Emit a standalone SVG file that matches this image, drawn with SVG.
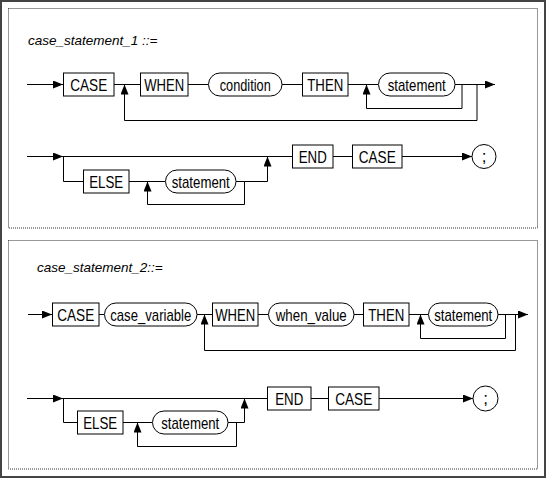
<svg xmlns="http://www.w3.org/2000/svg" width="546" height="478" viewBox="0 0 546 478">
<style>
.frame{fill:none;stroke:#444;stroke-width:2}
.dash{fill:none;stroke:#333;stroke-width:1;stroke-dasharray:1 1}
.box{fill:#fff;stroke:#000;stroke-width:1}
.ln{fill:none;stroke:#000;stroke-width:1}
.lbl{font-family:"Liberation Sans",Arial,sans-serif;font-size:17px;text-anchor:middle;fill:#000}
.title{font-family:"Liberation Sans",Arial,sans-serif;font-size:13.5px;font-style:italic;fill:#000}
</style>
<defs>
<marker id="ah" markerUnits="userSpaceOnUse" markerWidth="11" markerHeight="9" refX="10" refY="4" orient="auto">
<path d="M0,0 L10,4 L0,8 z" fill="#000"/>
</marker>
</defs>
<rect class="frame" x="1" y="1" width="544" height="476"/>
<rect class="dash" x="8.5" y="8.5" width="529" height="219.5"/>
<rect class="dash" x="8.5" y="240.5" width="529" height="228.5"/>
<text class="title" x="28" y="45">case_statement_1 ::=</text>
<text class="title" x="37" y="272">case_statement_2::=</text>

<g id="connectors">
<!-- section 1 row 1 -->
<path class="ln" d="M27,84.5 H63" marker-end="url(#ah)"/>
<path class="ln" d="M114,84.5 H140"/>
<path class="ln" d="M188,84.5 H208"/>
<path class="ln" d="M282,84.5 H302"/>
<path class="ln" d="M348,84.5 H378"/>
<path class="ln" d="M455,84.5 H495" marker-end="url(#ah)"/>
<path class="ln" d="M462,84.5 V108.5 H366.5 V84.5" marker-end="url(#ah)"/>
<path class="ln" d="M477,84.5 V120.5 H124.5 V84.5" marker-end="url(#ah)"/>
<!-- section 1 row 2 -->
<path class="ln" d="M27,156.5 H63" marker-end="url(#ah)"/>
<path class="ln" d="M63,156.5 H292"/>
<path class="ln" d="M63.5,156.5 V181.5 H83"/>
<path class="ln" d="M129,181.5 H165"/>
<path class="ln" d="M236,181.5 H267.5 V156.5" marker-end="url(#ah)"/>
<path class="ln" d="M244.5,181.5 V204.5 H147.5 V181.5" marker-end="url(#ah)"/>
<path class="ln" d="M333,156.5 H352"/>
<path class="ln" d="M402,156.5 H472" marker-end="url(#ah)"/>
<!-- section 2 row 1 -->
<path class="ln" d="M28,314.5 H52" marker-end="url(#ah)"/>
<path class="ln" d="M99,314.5 H104"/>
<path class="ln" d="M197,314.5 H212"/>
<path class="ln" d="M258,314.5 H268"/>
<path class="ln" d="M354,314.5 H363"/>
<path class="ln" d="M409,314.5 H428"/>
<path class="ln" d="M498,314.5 H528" marker-end="url(#ah)"/>
<path class="ln" d="M505.5,314.5 V338.5 H420.5 V314.5" marker-end="url(#ah)"/>
<path class="ln" d="M515.5,314.5 V350.5 H204.5 V314.5" marker-end="url(#ah)"/>
<!-- section 2 row 2 -->
<path class="ln" d="M27,398.5 H63" marker-end="url(#ah)"/>
<path class="ln" d="M63,398.5 H267"/>
<path class="ln" d="M63.5,398.5 V422.5 H77"/>
<path class="ln" d="M123,422.5 H152"/>
<path class="ln" d="M228,422.5 H244.5 V398.5" marker-end="url(#ah)"/>
<path class="ln" d="M236.5,422.5 V446.5 H137.5 V422.5" marker-end="url(#ah)"/>
<path class="ln" d="M311,398.5 H328"/>
<path class="ln" d="M379,398.5 H473" marker-end="url(#ah)"/>
</g>

<!-- section 1 row 1 nodes -->
<g id="s1_case"><rect class="box" x="63.5" y="73" width="50.5" height="23"/><text class="lbl" x="88.75" y="91" textLength="37" lengthAdjust="spacingAndGlyphs">CASE</text></g>
<g id="s1_when"><rect class="box" x="140.5" y="73" width="47.5" height="23"/><text class="lbl" x="164.25" y="91" textLength="40" lengthAdjust="spacingAndGlyphs">WHEN</text></g>
<g id="s1_condition"><rect class="box" x="208.5" y="73" width="73.5" height="23" rx="11.5" ry="11.5"/><text class="lbl" x="245.25" y="91" textLength="51" lengthAdjust="spacingAndGlyphs">condition</text></g>
<g id="s1_then"><rect class="box" x="302.5" y="73" width="45.5" height="23"/><text class="lbl" x="325.25" y="91" textLength="36" lengthAdjust="spacingAndGlyphs">THEN</text></g>
<g id="s1_statement1"><rect class="box" x="378.5" y="73" width="76.5" height="23" rx="11.5" ry="11.5"/><text class="lbl" x="416.75" y="91" textLength="58" lengthAdjust="spacingAndGlyphs">statement</text></g>

<!-- section 1 row 2 nodes -->
<g id="s1_else"><rect class="box" x="83.5" y="170" width="45.5" height="23"/><text class="lbl" x="106.25" y="188" textLength="34" lengthAdjust="spacingAndGlyphs">ELSE</text></g>
<g id="s1_statement2"><rect class="box" x="165.5" y="170" width="70.5" height="23" rx="11.5" ry="11.5"/><text class="lbl" x="200.75" y="188" textLength="58" lengthAdjust="spacingAndGlyphs">statement</text></g>
<g id="s1_end"><rect class="box" x="292.5" y="145" width="40.5" height="23"/><text class="lbl" x="312.75" y="163" textLength="28" lengthAdjust="spacingAndGlyphs">END</text></g>
<g id="s1_case2"><rect class="box" x="352.5" y="145" width="49.5" height="23"/><text class="lbl" x="377.25" y="163" textLength="37" lengthAdjust="spacingAndGlyphs">CASE</text></g>
<g id="s1_semi"><circle class="box" cx="484" cy="156.5" r="12"/><text class="lbl" x="484" y="162">;</text></g>

<!-- section 2 row 1 nodes -->
<g id="s2_case"><rect class="box" x="52.5" y="303" width="46.5" height="23"/><text class="lbl" x="75.75" y="321" textLength="37" lengthAdjust="spacingAndGlyphs">CASE</text></g>
<g id="s2_case_variable"><rect class="box" x="104.5" y="303" width="92.5" height="23" rx="11.5" ry="11.5"/><text class="lbl" x="150.75" y="321" textLength="81" lengthAdjust="spacingAndGlyphs">case_variable</text></g>
<g id="s2_when"><rect class="box" x="212.5" y="303" width="45.5" height="23"/><text class="lbl" x="235.25" y="321" textLength="40" lengthAdjust="spacingAndGlyphs">WHEN</text></g>
<g id="s2_when_value"><rect class="box" x="268.5" y="303" width="85.5" height="23" rx="11.5" ry="11.5"/><text class="lbl" x="311.25" y="321" textLength="71" lengthAdjust="spacingAndGlyphs">when_value</text></g>
<g id="s2_then"><rect class="box" x="363.5" y="303" width="45.5" height="23"/><text class="lbl" x="386.25" y="321" textLength="36" lengthAdjust="spacingAndGlyphs">THEN</text></g>
<g id="s2_statement1"><rect class="box" x="428.5" y="303" width="69.5" height="23" rx="11.5" ry="11.5"/><text class="lbl" x="463.25" y="321" textLength="58" lengthAdjust="spacingAndGlyphs">statement</text></g>

<!-- section 2 row 2 nodes -->
<g id="s2_else"><rect class="box" x="77.5" y="411" width="45.5" height="23"/><text class="lbl" x="100.25" y="429" textLength="34" lengthAdjust="spacingAndGlyphs">ELSE</text></g>
<g id="s2_statement2"><rect class="box" x="152.5" y="411" width="75.5" height="23" rx="11.5" ry="11.5"/><text class="lbl" x="190.25" y="429" textLength="58" lengthAdjust="spacingAndGlyphs">statement</text></g>
<g id="s2_end"><rect class="box" x="267.5" y="387" width="43.5" height="23"/><text class="lbl" x="289.25" y="405" textLength="28" lengthAdjust="spacingAndGlyphs">END</text></g>
<g id="s2_case2"><rect class="box" x="328.5" y="387" width="50.5" height="23"/><text class="lbl" x="353.75" y="405" textLength="37" lengthAdjust="spacingAndGlyphs">CASE</text></g>
<g id="s2_semi"><circle class="box" cx="485.5" cy="398.5" r="12.5"/><text class="lbl" x="485.5" y="404">;</text></g>
</svg>
